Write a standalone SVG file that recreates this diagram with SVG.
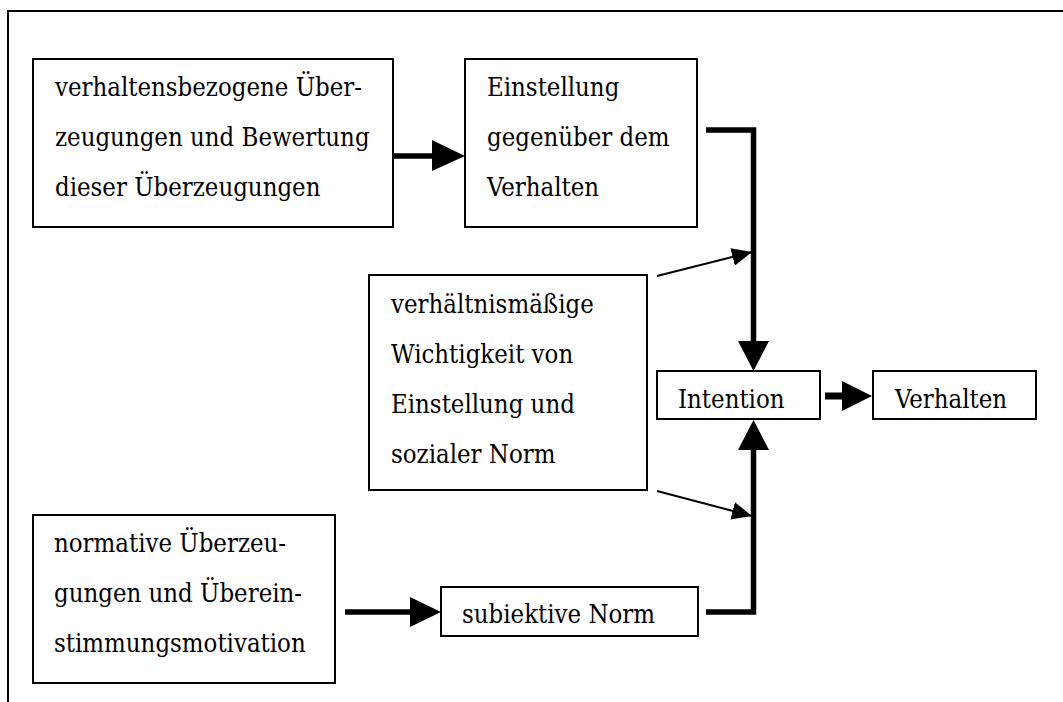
<svg xmlns="http://www.w3.org/2000/svg" width="1063" height="702" viewBox="0 0 1063 702">
  <style>
    .box { fill: #fff; stroke: #000; stroke-width: 2; }
    .lbl { font-family: 'DejaVu Serif Condensed', 'DejaVu Serif', 'Liberation Serif', serif; font-stretch: condensed; font-size: 25.5px; fill: #000; }
    .thick { fill: none; stroke: #000; stroke-width: 5.5; stroke-linejoin: miter; }
    .thin { fill: none; stroke: #000; stroke-width: 2; }
    .head { fill: #000; stroke: none; }
  </style>
  <defs>
    <marker id="thinHead" markerUnits="userSpaceOnUse" markerWidth="20" markerHeight="18" refX="20" refY="9" orient="auto">
      <path d="M0,0 L20,9 L0,18 Z" class="head"/>
    </marker>
  </defs>

  <!-- outer frame (top and left edges) -->
  <path d="M1063,11 H8 V702" fill="none" stroke="#000" stroke-width="2"/>

  <g id="node-beliefs">
    <rect class="box" x="33" y="59" width="360" height="168"/>
    <text class="lbl" x="55" y="96">verhaltensbezogene Über-</text>
    <text class="lbl" x="55" y="146">zeugungen und Bewertung</text>
    <text class="lbl" x="55" y="196">dieser Überzeugungen</text>
  </g>

  <g id="node-attitude">
    <rect class="box" x="465" y="59" width="232" height="168"/>
    <text class="lbl" x="487" y="96">Einstellung</text>
    <text class="lbl" x="487" y="146">gegenüber dem</text>
    <text class="lbl" x="487" y="196">Verhalten</text>
  </g>

  <g id="node-weight">
    <rect class="box" x="369" y="275" width="278" height="215"/>
    <text class="lbl" x="391" y="313">verhältnismäßige</text>
    <text class="lbl" x="391" y="363">Wichtigkeit von</text>
    <text class="lbl" x="391" y="413">Einstellung und</text>
    <text class="lbl" x="391" y="463">sozialer Norm</text>
  </g>

  <g id="node-intention">
    <rect class="box" x="657" y="371" width="163" height="48"/>
    <text class="lbl" x="678" y="408">Intention</text>
  </g>

  <g id="node-behavior">
    <rect class="box" x="873" y="371" width="163" height="48"/>
    <text class="lbl" x="895" y="408">Verhalten</text>
  </g>

  <g id="node-normative">
    <rect class="box" x="33" y="515" width="302" height="168"/>
    <text class="lbl" x="54" y="552">normative Überzeu-</text>
    <text class="lbl" x="54" y="602">gungen und Überein-</text>
    <text class="lbl" x="54" y="652">stimmungsmotivation</text>
  </g>

  <g id="node-subjective">
    <rect class="box" x="441" y="587" width="257" height="49"/>
    <text class="lbl" x="462" y="623">subiektive Norm</text>
  </g>

  <g id="connectors">
    <!-- beliefs -> attitude -->
    <line class="thick" x1="393" y1="156" x2="434" y2="156"/>
    <path class="head" d="M432,140 L465,156 L432,171 Z"/>

    <!-- attitude -> intention -->
    <path class="thick" d="M706,130 H753.5 V343"/>
    <path class="head" d="M738,341 L769,341 L753.5,371 Z"/>

    <!-- subjective norm -> intention -->
    <path class="thick" d="M706,612 H753.5 V448"/>
    <path class="head" d="M738,450 L769,450 L753.5,420 Z"/>

    <!-- normative beliefs -> subjective norm -->
    <line class="thick" x1="345" y1="612" x2="412" y2="612"/>
    <path class="head" d="M410,597 L441,612 L410,627 Z"/>

    <!-- intention -> behavior -->
    <line class="thick" x1="825" y1="396" x2="844" y2="396" style="stroke-width:7"/>
    <path class="head" d="M842,381 L872,396 L842,411 Z"/>

    <!-- relative weight -> both paths -->
    <line class="thin" x1="657" y1="276" x2="752" y2="252" marker-end="url(#thinHead)"/>
    <line class="thin" x1="657" y1="491" x2="752" y2="516" marker-end="url(#thinHead)"/>
  </g>
</svg>
